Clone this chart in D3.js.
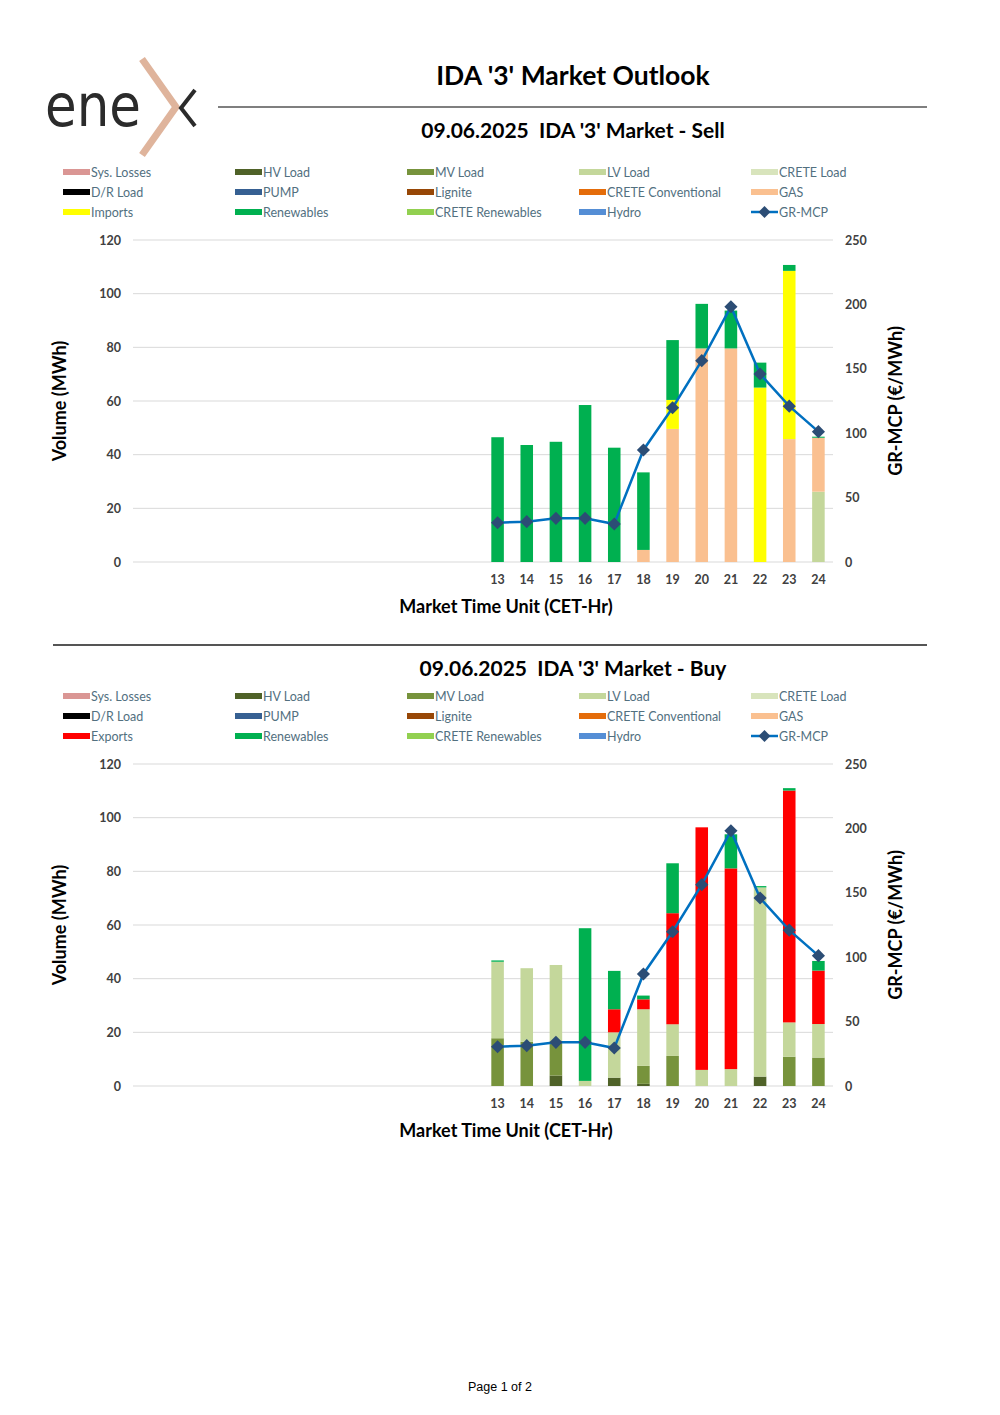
<!DOCTYPE html>
<html>
<head>
<meta charset="utf-8">
<script src="https://cdn.jsdelivr.net/npm/d3@7"></script>
<style>
  body { margin: 0; background: #fff; }
  svg { display: block; }
  text { white-space: pre; }
</style>
</head>
<body>
<svg id="page" width="1000" height="1415"></svg>
<script>
// categories (market time units) and their tick labels
var hours = [1, 2, 3, 4, 5, 6, 7, 8, 9, 10, 11, 12, 13, 14, 15, 16, 17, 18, 19, 20, 21, 22, 23, 24];
var hourLabels = ["", "", "", "", "", "", "", "", "", "", "", "", "13", "14", "15", "16", "17", "18", "19", "20", "21", "22", "23", "24"];
var volumeTicks = [0, 20, 40, 60, 80, 100, 120];
var priceTicks = [0, 50, 100, 150, 200, 250];

// GR-MCP (same for both sides)
var grMcp = [null, null, null, null, null, null, null, null, null, null, null, null,
    30.5, 31.3, 33.9, 33.9, 29.5, 87.0, 119.8, 156.3, 198.2, 146.0, 121.0, 101.2];

// Sell side (MWh)
var sellLvLoad     = [0,0,0,0,0,0,0,0,0,0,0,0, 0, 0, 0, 0, 0, 0, 0, 0, 0, 0, 0, 26.2];
var sellGas        = [0,0,0,0,0,0,0,0,0,0,0,0, 0, 0, 0, 0, 0, 4.5, 49.6, 79.6, 79.6, 0, 45.8, 20.1];
var sellImports    = [0,0,0,0,0,0,0,0,0,0,0,0, 0, 0, 0, 0, 0, 0, 10.8, 0, 0, 65.0, 62.7, 0];
var sellRenewables = [0,0,0,0,0,0,0,0,0,0,0,0, 46.5, 43.6, 44.8, 58.5, 42.6, 28.9, 22.3, 16.6, 14.1, 9.3, 2.2, 0.4];

// Buy side (MWh)
var buyHvLoad      = [0,0,0,0,0,0,0,0,0,0,0,0, 0, 0, 3.9, 0, 3.1, 0.8, 0, 0, 0, 3.5, 0, 0];
var buyMvLoad      = [0,0,0,0,0,0,0,0,0,0,0,0, 17.8, 16.5, 12.6, 0, 0, 6.7, 11.2, 0, 0, 0, 10.9, 10.6];
var buyLvLoad      = [0,0,0,0,0,0,0,0,0,0,0,0, 28.5, 27.4, 28.6, 1.9, 16.9, 21.1, 11.8, 6.0, 6.3, 70.5, 12.8, 12.5];
var buyExports     = [0,0,0,0,0,0,0,0,0,0,0,0, 0, 0, 0, 0, 8.6, 3.7, 41.4, 90.4, 74.8, 0, 86.4, 19.9];
var buyRenewables  = [0,0,0,0,0,0,0,0,0,0,0,0, 0.5, 0, 0, 56.9, 14.3, 1.4, 18.6, 0, 12.7, 0.5, 0.9, 3.6];

// legend entries, in stacking order
var legendSell = [
    {name: "Sys. Losses", color: "#da9694"}, {name: "HV Load", color: "#4f6228"}, {name: "MV Load", color: "#77933c"},
    {name: "LV Load", color: "#c4d79b"}, {name: "CRETE Load", color: "#d8e4bc"}, {name: "D/R Load", color: "#000000"},
    {name: "PUMP", color: "#366092"}, {name: "Lignite", color: "#974706"}, {name: "CRETE Conventional", color: "#e46c0a"},
    {name: "GAS", color: "#fac090"}, {name: "Imports", color: "#ffff00"}, {name: "Renewables", color: "#00b050"},
    {name: "CRETE Renewables", color: "#92d050"}, {name: "Hydro", color: "#558ed5"}, {name: "GR-MCP", color: "line"}
];
var legendBuy = legendSell.map(function (d) {
    return d.name === "Imports" ? {name: "Exports", color: "#ff0000"} : d;
});

var FONT = "Lato, 'DejaVu Sans', sans-serif";
var svg = d3.select("#page");

// ---- header / logo ----
var logo = svg.append("g");
logo.append("text")
    .attr("x", 45).attr("y", 126)
    .attr("font-family", "'DejaVu Sans', sans-serif")
    .attr("font-weight", 400)
    .attr("font-size", 58)
    .attr("fill", "#2b2b2b")
    .attr("textLength", 96)
    .attr("lengthAdjust", "spacingAndGlyphs")
    .text("ene");
logo.append("polyline")
    .attr("points", "142,59 176,107 142,155")
    .attr("fill", "none")
    .attr("stroke", "#dfb49c")
    .attr("stroke-width", 7);
logo.append("polyline")
    .attr("points", "195,90 181,108 195,126")
    .attr("fill", "none")
    .attr("stroke", "#2b2b2b")
    .attr("stroke-width", 4);

svg.append("text")
    .attr("x", 573).attr("y", 85)
    .attr("text-anchor", "middle")
    .attr("font-family", FONT)
    .attr("font-weight", "bold")
    .attr("font-size", 26.5)
    .attr("fill", "#000")
    .text("IDA '3' Market Outlook");

svg.append("line")
    .attr("x1", 218).attr("x2", 927)
    .attr("y1", 107).attr("y2", 107)
    .attr("stroke", "#555").attr("stroke-width", 1.5);

svg.append("line")
    .attr("x1", 53).attr("x2", 927)
    .attr("y1", 645).attr("y2", 645)
    .attr("stroke", "#555").attr("stroke-width", 2);

svg.append("text")
    .attr("x", 500).attr("y", 1391)
    .attr("text-anchor", "middle")
    .attr("font-family", "'Liberation Sans', Arial, sans-serif")
    .attr("font-size", 12.5)
    .attr("fill", "#000")
    .text("Page 1 of 2");

// ---- charts ----
function drawChart(top, titleY, title, legend, series) {
    var g = svg.append("g").attr("transform", "translate(0," + top + ")");

    g.append("text")
        .attr("x", 573).attr("y", titleY)
        .attr("text-anchor", "middle")
        .attr("font-family", FONT)
        .attr("font-weight", "bold")
        .attr("font-size", 21)
        .attr("fill", "#000")
        .text(title);

    // legend: 5 columns x 3 rows
    var lg = g.selectAll(".legend")
        .data(legend)
        .enter().append("g")
        .attr("transform", function (d, i) {
            return "translate(" + (63 + (i % 5) * 172) + "," + (60 + Math.floor(i / 5) * 20) + ")";
        });
    lg.each(function (d) {
        var item = d3.select(this);
        if (d.color === "line") {
            item.append("line").attr("x1", 0).attr("x2", 27).attr("y1", 0).attr("y2", 0)
                .attr("stroke", "#0070c0").attr("stroke-width", 2.5);
            item.append("path").attr("d", d3.symbol(d3.symbolDiamond2, 90)())
                .attr("transform", "translate(13.5,0)")
                .attr("fill", "#2c4d75");
        } else {
            item.append("rect").attr("x", 0).attr("y", -3).attr("width", 27).attr("height", 6)
                .attr("fill", d.color);
        }
        item.append("text")
            .attr("x", 28).attr("y", 4.5)
            .attr("font-family", FONT)
            .attr("font-size", 12.5)
            .attr("fill", "#52707f")
            .text(d.name);
    });

    var x = d3.scaleBand().domain(hours).range([133, 833]).paddingInner(0.57).paddingOuter(0.285);
    var y = d3.scaleLinear().domain([0, 120]).range([450, 128]);
    var y2 = d3.scaleLinear().domain([0, 250]).range([450, 128]);

    // gridlines
    g.append("g").selectAll("line")
        .data(volumeTicks)
        .enter().append("line")
        .attr("x1", 133).attr("x2", 833)
        .attr("y1", function (d) { return y(d); })
        .attr("y2", function (d) { return y(d); })
        .attr("stroke", "#d9d9d9").attr("stroke-width", 1);

    var leftAxis = g.append("g")
        .attr("transform", "translate(133,0)")
        .call(d3.axisLeft(y).tickValues(volumeTicks).tickSize(0).tickPadding(12));
    var rightAxis = g.append("g")
        .attr("transform", "translate(833,0)")
        .call(d3.axisRight(y2).tickValues(priceTicks).tickSize(0).tickPadding(12));
    var bottomAxis = g.append("g")
        .attr("transform", "translate(0,450)")
        .call(d3.axisBottom(x).tickSize(0).tickPadding(13)
            .tickFormat(function (d, i) { return hourLabels[i]; }));
    [leftAxis, rightAxis, bottomAxis].forEach(function (a) {
        a.select(".domain").remove();
        a.selectAll("text")
            .attr("font-family", FONT)
            .attr("font-size", 12.5)
            .attr("font-weight", "bold")
            .attr("fill", "#404040");
    });

    // stacked bars
    var keys = series.map(function (s) { return s.name; });
    var rows = hours.map(function (h, i) {
        var r = {hour: h};
        series.forEach(function (s) { r[s.name] = s.values[i]; });
        return r;
    });
    var stacked = d3.stack().keys(keys)(rows);
    g.append("g").selectAll("g")
        .data(stacked)
        .enter().append("g")
        .attr("fill", function (d, i) { return series[i].color; })
        .selectAll("rect")
        .data(function (d) { return d; })
        .enter().append("rect")
        .attr("x", function (d) { return x(d.data.hour); })
        .attr("width", x.bandwidth())
        .attr("y", function (d) { return y(d[1]); })
        .attr("height", function (d) { return y(d[0]) - y(d[1]); });

    // GR-MCP line
    var line = d3.line()
        .defined(function (d) { return d != null; })
        .x(function (d, i) { return x(hours[i]) + x.bandwidth() / 2; })
        .y(function (d) { return y2(d); });
    g.append("path")
        .datum(grMcp)
        .attr("d", line)
        .attr("fill", "none")
        .attr("stroke", "#0070c0")
        .attr("stroke-width", 2.5);
    g.append("g").selectAll("path")
        .data(grMcp.map(function (v, i) { return {v: v, hour: hours[i]}; }).filter(function (d) { return d.v != null; }))
        .enter().append("path")
        .attr("d", d3.symbol(d3.symbolDiamond2, 110)())
        .attr("transform", function (d) {
            return "translate(" + (x(d.hour) + x.bandwidth() / 2) + "," + y2(d.v) + ")";
        })
        .attr("fill", "#2c4d75");

    // axis titles
    g.append("text")
        .attr("transform", "translate(66,289) rotate(-90)")
        .attr("text-anchor", "middle")
        .attr("font-family", FONT).attr("font-weight", "bold").attr("font-size", 18)
        .attr("fill", "#000")
        .text("Volume (MWh)");
    g.append("text")
        .attr("transform", "translate(902,289) rotate(-90)")
        .attr("text-anchor", "middle")
        .attr("font-family", FONT).attr("font-weight", "bold").attr("font-size", 18)
        .attr("fill", "#000")
        .text("GR-MCP (€/MWh)");
    g.append("text")
        .attr("x", 506).attr("y", 501)
        .attr("text-anchor", "middle")
        .attr("font-family", FONT).attr("font-weight", "bold").attr("font-size", 18)
        .attr("fill", "#000")
        .text("Market Time Unit (CET-Hr)");
}

drawChart(112, 26, "09.06.2025  IDA '3' Market - Sell", legendSell, [
    {name: "LV Load", color: "#c4d79b", values: sellLvLoad},
    {name: "GAS", color: "#fac090", values: sellGas},
    {name: "Imports", color: "#ffff00", values: sellImports},
    {name: "Renewables", color: "#00b050", values: sellRenewables}
]);

drawChart(636, 40, "09.06.2025  IDA '3' Market - Buy", legendBuy, [
    {name: "HV Load", color: "#4f6228", values: buyHvLoad},
    {name: "MV Load", color: "#77933c", values: buyMvLoad},
    {name: "LV Load", color: "#c4d79b", values: buyLvLoad},
    {name: "Exports", color: "#ff0000", values: buyExports},
    {name: "Renewables", color: "#00b050", values: buyRenewables}
]);
</script>
</body>
</html>
